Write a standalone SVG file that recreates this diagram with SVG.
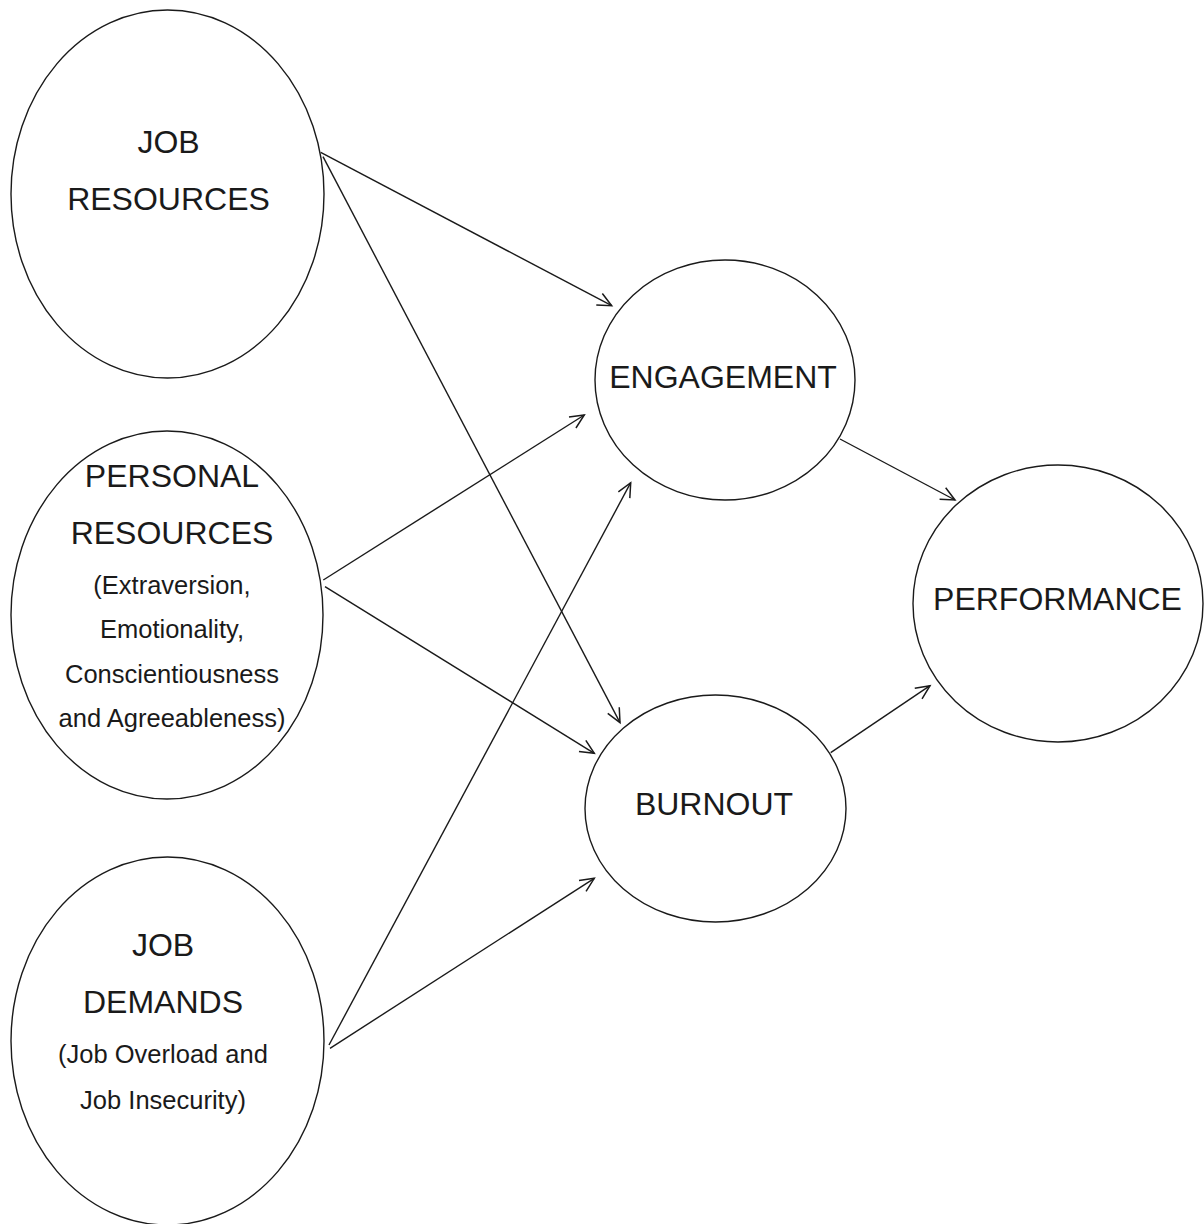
<svg xmlns="http://www.w3.org/2000/svg" width="1204" height="1224" viewBox="0 0 1204 1224">
<defs>
<style>
.node{fill:#fff;stroke:#1a1a1a;stroke-width:1.4}
.big{font-family:"Liberation Sans",Arial,sans-serif;font-size:32px;fill:#1a1a1a;text-anchor:middle}
.small{font-family:"Liberation Sans",Arial,sans-serif;font-size:25.5px;fill:#1a1a1a;text-anchor:middle}
.edge{fill:none;stroke:#1a1a1a;stroke-width:1.4;marker-end:url(#arr)}
</style>
<marker id="arr" viewBox="-16 -8 18 16" markerWidth="18" markerHeight="16" refX="0" refY="0" orient="auto" markerUnits="userSpaceOnUse" overflow="visible">
<path d="M-14,-6.5 L0,0 L-14,6.5" fill="none" stroke="#1a1a1a" stroke-width="1.5"/>
</marker>
</defs>
<rect width="1204" height="1224" fill="#fff"/>
<g id="job-resources">
<ellipse class="node" cx="167.5" cy="194" rx="156.5" ry="184"/>
<text class="big" x="168.5" y="153">JOB</text>
<text class="big" x="168.5" y="210">RESOURCES</text>
</g>
<g id="personal-resources">
<ellipse class="node" cx="167" cy="615" rx="156" ry="184"/>
<text class="big" x="172" y="487">PERSONAL</text>
<text class="big" x="172" y="544">RESOURCES</text>
<text class="small" x="172" y="594">(Extraversion,</text>
<text class="small" x="172" y="638">Emotionality,</text>
<text class="small" x="172" y="683">Conscientiousness</text>
<text class="small" x="172" y="727">and Agreeableness)</text>
</g>
<g id="job-demands">
<ellipse class="node" cx="167.5" cy="1041" rx="156.5" ry="184"/>
<text class="big" x="163" y="956">JOB</text>
<text class="big" x="163" y="1013">DEMANDS</text>
<text class="small" x="163" y="1063">(Job Overload and</text>
<text class="small" x="163" y="1109">Job Insecurity)</text>
</g>
<g id="engagement">
<ellipse class="node" cx="725" cy="380" rx="130" ry="120"/>
<text class="big" x="723" y="388">ENGAGEMENT</text>
</g>
<g id="burnout">
<ellipse class="node" cx="715.5" cy="808.5" rx="130.5" ry="113.5"/>
<text class="big" x="714" y="815">BURNOUT</text>
</g>
<g id="performance">
<ellipse class="node" cx="1058" cy="603.5" rx="145" ry="138.5"/>
<text class="big" x="1057.5" y="610">PERFORMANCE</text>
</g>
<g id="connectors">
<line class="edge" x1="320.7" y1="152.3" x2="611.7" y2="305.7"/>
<line class="edge" x1="323" y1="156.7" x2="620" y2="722.7"/>
<line class="edge" x1="323.3" y1="580" x2="584.3" y2="415"/>
<line class="edge" x1="325" y1="586.7" x2="594.3" y2="753.3"/>
<line class="edge" x1="329" y1="1045" x2="630.7" y2="482.7"/>
<line class="edge" x1="330" y1="1048.3" x2="594.3" y2="878.3"/>
<line class="edge" x1="840" y1="439" x2="955" y2="500"/>
<line class="edge" x1="830.7" y1="752.7" x2="930" y2="685.7"/>
</g>
</svg>
